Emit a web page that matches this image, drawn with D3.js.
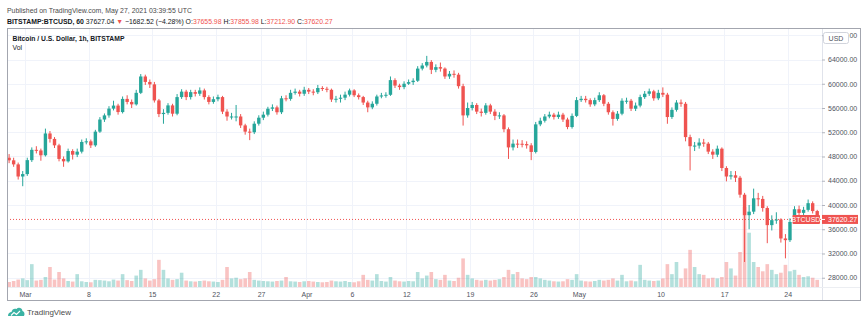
<!DOCTYPE html>
<html><head><meta charset="utf-8">
<script src="https://cdn.jsdelivr.net/npm/d3@7"></script>
<style>body{margin:0;background:#fff;} svg{display:block;font-family:"Liberation Sans",Arial,sans-serif;}</style>
</head><body><svg id="c" width="866" height="325"></svg>
<script>
// ---- data (12h buckets starting 2021-02-27 00:00 UTC), prices in thousands USD ----
const firstOpenK = 47.8;
const closeK = [47.37,46.7,44.7,45.1,47.4,49.1,49.0,48.2,51.8,50.9,49.84,47.6,47.2,48.9,48.3,48.8,50.4,50.5,49.84,52.1,
54.1,54.78,55.9,56.4,55.33,57.5,57.0,56.6,58.5,61.2,60.3,59.9,57.25,55.0,55.2,56.43,55.06,57.8,58.7,57.8,
58.62,58.35,58.9,57.8,57.0,57.45,57.8,55.4,54.6,54.6,54.6,53.13,52.1,52.0,53.41,54.4,54.9,55.88,56.1,55.3,
57.6,57.5,58.5,58.7,58.35,59.0,58.7,58.6,59.3,59.17,59.0,57.4,57.52,57.7,58.2,58.9,58.1,57.8,56.9,56.1,
56.7,57.9,58.07,58.18,60.6,59.7,59.45,60.0,60.27,60.5,62.5,63.01,63.6,62.3,62.74,62.5,61.2,61.64,61.5,59.6,
54.78,56.0,56.5,55.4,55.2,56.43,55.4,54.7,54.78,52.5,49.5,50.12,50.1,50.05,49.84,48.75,53.3,53.9,54.6,54.9,
54.51,54.9,54.1,52.86,54.7,57.3,57.52,57.3,56.6,57.3,58.1,56.7,55.3,54.2,55.06,57.2,57.2,55.88,56.4,57.8,
58.35,58.75,57.6,58.5,58.2,54.51,55.7,56.9,56.7,51.2,49.7,49.8,50.3,50.12,48.8,48.3,49.29,46.1,44.7,44.9,
44.5,41.7,38.32,38.9,41.1,41.0,39.5,36.68,37.5,37.6,34.48,34.2,37.2,39.3,38.7,39.2,40.3,39.0,37.62];
const highK = [48.4,47.8,47.0,45.6,47.8,49.5,49.7,49.3,52.6,52.2,51.2,50.1,48.0,49.3,49.2,49.3,50.8,51.0,50.8,52.4,
54.5,55.1,56.3,57.2,56.7,57.9,58.1,57.4,59.0,61.6,61.5,60.7,60.3,57.5,55.8,56.8,56.7,58.3,59.1,59.0,
59.0,59.0,59.4,59.2,58.1,57.9,58.2,58.0,55.8,55.2,56.5,55.0,53.4,52.6,53.8,54.8,55.4,56.2,56.6,56.4,
58.0,58.1,59.0,59.2,59.0,59.5,59.3,59.1,59.8,59.6,59.5,59.2,58.0,58.2,58.7,59.2,59.1,58.4,58.0,57.2,
57.1,58.2,58.5,58.6,61.2,60.9,60.0,60.4,60.7,60.9,62.9,63.4,64.6,63.9,63.2,63.5,62.7,62.1,62.2,61.8,
60.0,56.9,57.0,56.8,55.9,56.8,56.7,55.8,55.3,55.0,52.8,50.8,50.8,50.7,50.5,50.2,53.7,54.4,55.0,55.4,
55.2,55.4,55.2,54.4,55.1,57.8,58.0,58.0,57.6,57.7,58.6,58.3,57.0,55.6,55.5,57.6,57.7,57.5,56.9,58.2,
58.8,59.2,59.0,59.0,59.4,58.5,56.1,57.3,57.4,57.0,51.6,50.4,51.0,50.9,50.4,49.2,49.8,49.5,46.4,45.6,
45.6,44.8,42.0,40.0,42.7,42.0,41.5,39.8,38.3,38.8,37.8,35.2,37.8,39.8,39.9,39.7,40.9,40.6,39.2];
const lowK = [46.9,46.3,44.2,43.1,44.8,47.1,48.5,47.3,48.0,50.3,49.4,47.2,46.3,47.0,47.5,47.9,48.5,50.0,49.4,49.6,
51.9,53.7,54.4,55.6,54.9,55.1,56.6,56.0,56.4,58.3,59.8,59.3,56.9,54.5,53.4,54.9,54.6,54.8,57.5,57.3,
57.4,57.9,58.0,57.4,56.6,56.7,57.1,55.0,53.9,54.1,53.8,52.7,51.6,50.7,51.7,53.1,54.0,54.6,55.5,54.9,
55.0,57.1,57.2,58.2,57.9,58.0,58.3,58.1,58.3,58.8,58.6,57.0,56.9,56.9,57.3,57.9,57.8,57.4,56.5,55.3,
55.8,56.4,57.6,57.7,58.0,59.3,59.0,59.1,59.8,59.8,60.3,62.2,62.7,61.6,61.9,62.0,60.8,60.8,61.0,59.2,
53.1,54.4,55.6,55.0,54.6,54.9,55.0,54.0,54.2,52.0,47.6,49.0,49.4,49.5,49.3,47.4,48.5,53.0,53.6,54.3,
54.1,54.2,53.7,52.5,52.6,54.5,57.0,56.9,56.2,56.3,57.0,56.3,54.9,53.1,53.9,54.8,56.7,55.5,55.5,56.1,
57.5,58.0,57.2,57.3,57.8,53.4,54.2,55.4,56.2,50.5,45.7,48.9,49.3,49.6,48.4,47.6,47.9,45.6,43.9,44.2,
43.8,41.2,30.6,36.0,38.5,39.8,38.9,33.7,35.8,36.9,33.8,31.2,33.9,36.9,38.2,38.2,38.9,38.6,37.2];
const volume = [350,420,520,600,480,1600,450,500,700,1400,520,
1050,600,420,380,900,400,350,330,500,480,
450,400,520,450,900,480,420,800,1200,600,
450,550,1900,1200,600,500,550,1000,450,400,
380,420,450,400,380,350,500,1400,600,650,
550,600,1050,500,450,420,400,380,420,450,
700,400,380,350,400,420,380,350,330,350,
450,400,380,420,350,330,400,850,500,450,
900,420,380,700,450,400,380,420,400,1050,
600,800,1050,550,500,850,450,420,650,2000,
850,600,500,450,500,450,500,550,700,1200,
900,1050,600,550,700,700,600,500,450,400,
380,400,550,500,900,450,400,380,420,500,
450,500,600,450,850,400,450,400,1550,500,
450,420,450,600,1600,900,1750,600,1300,2600,
1400,900,850,600,650,600,700,1750,1300,800,
2450,5600,3800,1750,1400,1100,1600,1200,900,1000,
1550,1100,1200,850,700,750,650,500];
const priceTicks = [28000,32000,36000,40000,44000,48000,52000,56000,60000,64000,68000];
const timeTickDates = ["2021-03-01","2021-03-08","2021-03-15","2021-03-22","2021-03-27","2021-04-01","2021-04-06",
  "2021-04-12","2021-04-19","2021-04-26","2021-05-01","2021-05-10","2021-05-17","2021-05-24"];
const timeTickLabels = ["Mar","8","15","22","27","Apr","6","12","19","26","May","10","17","24"];
const lastPrice = 37620.27;

// ---- build candles ----
const H12 = 12*3600*1000;
const t0 = Date.UTC(2021,1,27,0,0);
const candles = closeK.map((c,i)=>({
  t: new Date(t0 + i*H12),
  tc: new Date(t0 + i*H12 + H12/2),
  o: (i===0?firstOpenK:closeK[i-1])*1000, c: c*1000, h: highK[i]*1000, l: lowK[i]*1000, v: volume[i]
}));

const UP="#26a69a", DN="#ef5350";
const svg = d3.select("#c");
const L=7, R=822, T=28, B=287;

const x = d3.scaleUtc().domain([new Date(Date.UTC(2021,1,27,0,26)), new Date(Date.UTC(2021,4,27,18,40))]).range([L,R]);
const y = d3.scaleLinear().domain([26474, 69196]).range([B,T]);
const yv = d3.scaleLinear().domain([0,7000]).range([B,B-100]);

svg.append("defs").append("clipPath").attr("id","clip").append("rect").attr("x",L).attr("y",T).attr("width",R-L).attr("height",B-T);

// grid
const grid = svg.append("g");
grid.selectAll("line.h").data(priceTicks).join("line").attr("x1",L).attr("x2",R)
  .attr("y1",d=>Math.round(y(d))+0.5).attr("y2",d=>Math.round(y(d))+0.5).attr("stroke","#f0f3fa").attr("stroke-width",1);
grid.selectAll("line.v").data(timeTickDates).join("line").attr("y1",T).attr("y2",B)
  .attr("x1",d=>Math.round(x(new Date(d+"T00:00:00Z")))+0.5).attr("x2",d=>Math.round(x(new Date(d+"T00:00:00Z")))+0.5)
  .attr("stroke","#f0f3fa").attr("stroke-width",1);

const plot = svg.append("g").attr("clip-path","url(#clip)");
// volume
plot.append("g").selectAll("rect").data(candles).join("rect")
  .attr("x",d=>x(d.tc)-1.8).attr("width",3.6)
  .attr("y",d=>yv(d.v)).attr("height",d=>B-yv(d.v))
  .attr("fill",d=>d.c>=d.o?UP:DN).attr("opacity",0.35);
// last price line
plot.append("line").attr("x1",L).attr("x2",R).attr("y1",y(lastPrice)).attr("y2",y(lastPrice))
  .attr("stroke",DN).attr("stroke-width",1).attr("stroke-dasharray","1,2");
// wicks
plot.append("g").selectAll("line").data(candles).join("line")
  .attr("x1",d=>x(d.tc)).attr("x2",d=>x(d.tc)).attr("y1",d=>y(d.h)).attr("y2",d=>y(d.l))
  .attr("stroke",d=>d.c>=d.o?UP:DN).attr("stroke-width",1);
// bodies
plot.append("g").selectAll("rect").data(candles).join("rect")
  .attr("x",d=>x(d.tc)-1.7).attr("width",3.4)
  .attr("y",d=>y(Math.max(d.o,d.c))).attr("height",d=>Math.max(1,Math.abs(y(d.o)-y(d.c))))
  .attr("fill",d=>d.c>=d.o?UP:DN);

// axes separators
svg.append("line").attr("x1",R+0.5).attr("x2",R+0.5).attr("y1",T).attr("y2",301).attr("stroke","#e0e3eb");
svg.append("line").attr("x1",L).attr("x2",861).attr("y1",B+0.5).attr("y2",B+0.5).attr("stroke","#eceef2");

// price axis
const ya = svg.append("g").attr("transform",`translate(${R},0)`)
  .call(d3.axisRight(y).tickValues(priceTicks).tickFormat(d=>d.toFixed(2)).tickSize(3).tickPadding(3));
ya.select(".domain").remove();
ya.selectAll("line").attr("stroke","#b2b5be");
ya.selectAll("text").attr("font-size","7px").attr("fill","#50535e");

// time axis
const xa = svg.append("g").attr("transform",`translate(0,${B})`)
  .call(d3.axisBottom(x).tickValues(timeTickDates.map(d=>new Date(d+"T00:00:00Z"))).tickFormat((d,i)=>timeTickLabels[i]).tickSize(0).tickPadding(5));
xa.select(".domain").remove();
xa.selectAll("text").attr("font-size","7px").attr("fill","#50535e");

// USD button
svg.append("rect").attr("x",823.5).attr("y",32.5).attr("width",25).attr("height",11).attr("rx",2).attr("fill","#fff").attr("stroke","#d1d4dc");
svg.append("text").attr("x",836).attr("y",40.5).attr("text-anchor","middle").attr("font-size","7px").attr("fill","#50535e").text("USD");

// last price labels
const yl = y(lastPrice);
svg.append("rect").attr("x",792.5).attr("y",yl-4.5).attr("width",27.5).attr("height",9).attr("rx",1).attr("fill",DN);
svg.append("text").attr("x",806).attr("y",yl+2.5).attr("text-anchor","middle").attr("font-size","7px").attr("fill","#fff").text("BTCUSD");
svg.append("rect").attr("x",822).attr("y",yl-4.5).attr("width",36).attr("height",9).attr("fill",DN);
svg.append("line").attr("x1",822).attr("x2",825).attr("y1",yl).attr("y2",yl).attr("stroke","#fff");
svg.append("text").attr("x",828).attr("y",yl+2.5).attr("font-size","7px").attr("fill","#fff").text(lastPrice.toFixed(2));

// frame
svg.append("rect").attr("x",L+0.5).attr("y",T+0.5).attr("width",861-L-1).attr("height",301-T-1).attr("fill","none").attr("stroke","#a3a6af").attr("stroke-width",1);

// header
function fitWidth(sel, target){
  const w = sel.node().getComputedTextLength();
  const fs = parseFloat(sel.attr("font-size"));
  sel.attr("font-size", (fs*target/w).toFixed(2)+"px");
}
const h1 = svg.append("text").attr("x",7).attr("y",13).attr("font-size","7px").attr("fill","#4a4a4a").text("Published on TradingView.com, May 27, 2021 03:39:55 UTC");
fitWidth(h1, 185);
const h2 = svg.append("text").attr("x",7).attr("y",24).attr("font-size","7px").attr("fill","#131722");
h2.append("tspan").attr("font-weight","bold").text("BITSTAMP:BTCUSD, 60 ");
h2.append("tspan").text("37627.04 ");
h2.append("tspan").attr("fill",DN).text("▼");
h2.append("tspan").text(" −1682.52 (−4.28%) O:");
h2.append("tspan").attr("fill",DN).text("37655.98");
h2.append("tspan").text(" H:");
h2.append("tspan").attr("fill",DN).text("37855.98");
h2.append("tspan").text(" L:");
h2.append("tspan").attr("fill",DN).text("37212.90");
h2.append("tspan").text(" C:");
h2.append("tspan").attr("fill",DN).text("37620.27");
fitWidth(h2, 326);

const ttl = svg.append("text").attr("x",12.5).attr("y",40.5).attr("font-size","6.8px").attr("font-weight","bold").attr("fill","#131722").text("Bitcoin / U.S. Dollar, 1h, BITSTAMP");
fitWidth(ttl, 112);
svg.append("text").attr("x",12.5).attr("y",50).attr("font-size","6.8px").attr("fill","#131722").text("Vol");

// TradingView logo
const lg = svg.append("g").attr("transform","translate(8,307)");
lg.append("path").attr("d","M0,9 C0,6 2,5 3.5,5 C4,2 6.5,1 8.5,2 C10,0 14,0.5 14.5,4 C16.5,4.5 17,7 16,9 Z").attr("fill","#3bb3a4");
lg.append("path").attr("d","M3,8.5 L6,5.5 L8.5,7.5 L12,4").attr("stroke","#fff").attr("stroke-width",1.1).attr("fill","none");
svg.append("text").attr("x",27).attr("y",315).attr("font-size","8px").attr("fill","#4a4a4a").text("TradingView");
</script></body></html>
